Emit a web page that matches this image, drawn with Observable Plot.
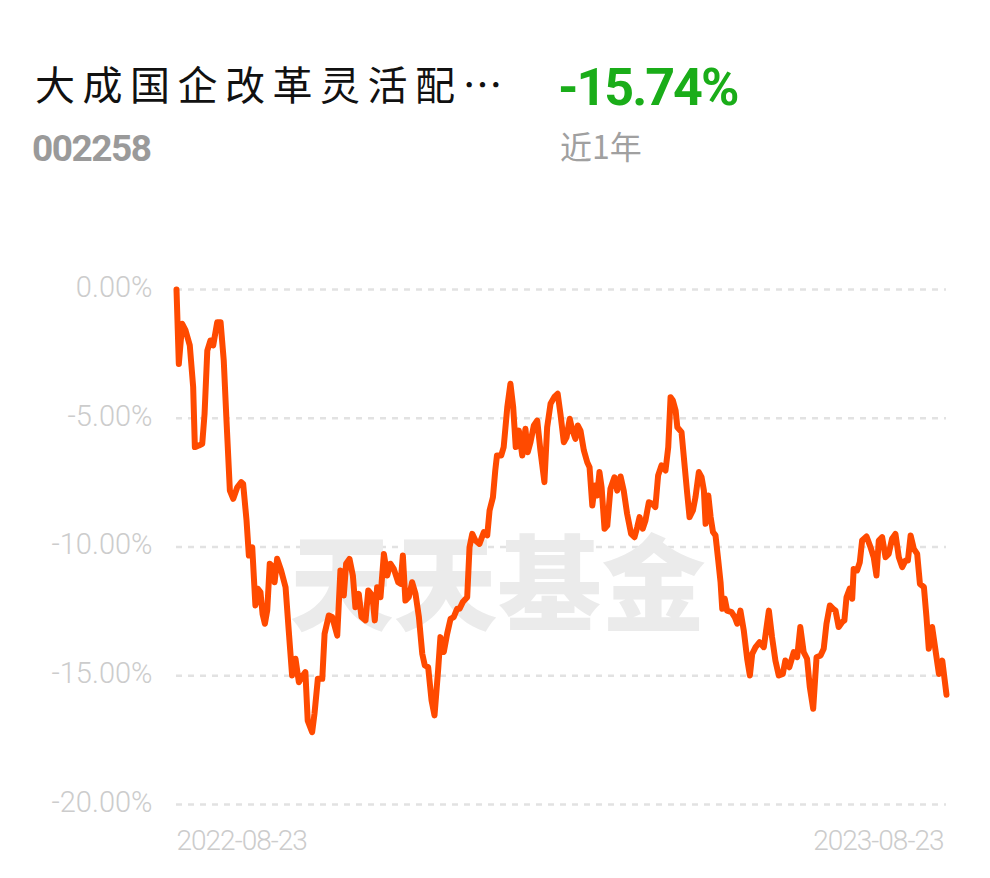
<!DOCTYPE html>
<html>
<head>
<meta charset="utf-8">
<script src="https://cdn.jsdelivr.net/npm/d3@7"></script>
<script src="https://cdn.jsdelivr.net/npm/@observablehq/plot@0.6"></script>
<style>
  html, body { margin: 0; padding: 0; background: #fff; }
  #wrap { position: relative; width: 990px; height: 878px; overflow: hidden; }
  #wrap svg { position: absolute; left: 0; top: 0; }
  .hdr { position: absolute; white-space: nowrap; line-height: 1; }
  #title { left: 35px; top: 54px; font: 40px "Noto Sans CJK SC"; letter-spacing: 7.5px; color: #111; }
  #ret { left: 558px; top: 57px; font: bold 52px Roboto; color: #1aad19; letter-spacing: -2px; }
  #code { left: 32px; top: 127px; font: bold 37px Roboto; color: #9a9a9a; letter-spacing: -1.5px; }
  #period { left: 560px; top: 122px; font: 32px "Noto Sans CJK SC"; color: #a0a0a0; }
  g[aria-label="x-axis tick label"] text { letter-spacing: -1px; }
</style>
</head>
<body>
<div id="wrap">
  <div class="hdr" id="title"></div>
  <div class="hdr" id="ret"></div>
  <div class="hdr" id="code"></div>
  <div class="hdr" id="period"></div>
</div>
<script>
// ---- data ----
const fundName = "大成国企改革灵活配…";
const fundCode = "002258";
const periodLabel = "近1年";
const periodReturn = -15.74;
const startDate = "2022-08-23";
const xTickLabels = ["2022-08-23", "2023-08-23"];
const yTicks = [0, -5, -10, -15, -20];
const watermark = "天天基金";
// [days since start, cumulative return %]
const series = [
  [0,0],[1.1,-2.89],[2.7,-1.33],[4.3,-1.59],[6.3,-2.17],[7.9,-3.79],[8.7,-6.12],[10.6,-6.06],[12.2,-5.99],[13.3,-4.83],
  [14.6,-2.37],[16.1,-1.98],[17.4,-2.17],[19.3,-1.27],[20.9,-1.27],[22.4,-2.76],[23.7,-5.09],[25.3,-7.81],[26.9,-8.13],[28.8,-7.68],
  [30.7,-7.48],[31.6,-7.55],[33.2,-8.97],[34.3,-10.33],[35.9,-10.01],[37.4,-12.27],[38.5,-11.62],[39.8,-11.75],[40.8,-12.6],[41.9,-12.98],
  [43.0,-12.47],[44.2,-10.65],[45.8,-10.78],[46.5,-11.37],[47.7,-10.46],[49.6,-10.91],[51.7,-11.56],[53.2,-13.24],[54.8,-14.99],[56.4,-14.34],
  [58.0,-15.25],[59.3,-15.06],[61.1,-14.86],[62.2,-16.74],[64.3,-17.19],[65.4,-16.48],[67.0,-15.12],[69.1,-15.12],[70.2,-13.37],[72.2,-12.66],
  [73.8,-12.72],[76.2,-13.44],[77.7,-10.91],[79.3,-11.88],[80.4,-10.65],[82.0,-10.46],[83.6,-11.11],[84.8,-12.34],[86.4,-11.82],[87.7,-12.72],
  [89.6,-12.85],[90.9,-11.69],[92.8,-11.88],[94.0,-12.85],[95.1,-11.56],[96.7,-11.95],[98.3,-10.27],[99.9,-11.11],[101.4,-10.65],[103.0,-10.85],
  [105.1,-11.37],[106.2,-11.43],[107.3,-10.33],[108.5,-12.08],[110.1,-11.95],[111.7,-11.37],[113.3,-11.82],[114.9,-12.72],[116.5,-14.15],[117.7,-14.60],
  [119.3,-14.67],[120.9,-15.96],[122.3,-16.54],[124.0,-14.80],[125.1,-13.50],[126.7,-14.08],[128.3,-13.37],[129.9,-12.79],[131.4,-12.72],[133.0,-12.40],
  [134.2,-12.40],[135.7,-12.14],[137.8,-11.95],[138.9,-10.01],[140.2,-9.49],[141.7,-9.75],[143.6,-9.88],[145.7,-9.42],[147.3,-9.55],[148.4,-8.58],
  [150.0,-8.07],[151.1,-7.03],[151.9,-6.45],[153.9,-6.45],[155.1,-6.12],[156.8,-4.57],[158.3,-3.66],[159.6,-4.57],[160.8,-6.12],[162.3,-5.48],
  [163.9,-6.45],[165.4,-5.41],[166.5,-6.32],[167.8,-5.93],[169.4,-5.28],[171.0,-5.09],[172.5,-6.25],[174.4,-7.48],[175.7,-5.35],[177.3,-4.44],
  [179.2,-4.16],[180.7,-4.05],[182.0,-4.83],[183.6,-5.93],[184.9,-5.74],[186.4,-5.02],[187.7,-5.48],[189.1,-5.80],[190.2,-5.28],[191.5,-5.48],
  [193.1,-6.25],[194.7,-6.71],[195.8,-6.90],[197.1,-8.39],[198.3,-7.61],[199.4,-8.0],[200.5,-7.09],[201.5,-7.68],[202.9,-9.29],[204.2,-9.17],
  [205.7,-7.74],[207.6,-7.29],[208.9,-7.81],[210.5,-7.26],[212.0,-7.81],[213.6,-8.71],[215.5,-9.49],[217.1,-9.62],[218.4,-9.23],[219.5,-8.84],
  [221.0,-9.29],[222.3,-8.97],[223.9,-8.26],[225.5,-8.32],[227.0,-8.45],[228.3,-7.22],[229.9,-6.83],[231.8,-7.03],[233.1,-6.12],[234.2,-4.18],
  [235.3,-4.31],[236.6,-4.70],[237.4,-5.35],[239.4,-5.54],[241.0,-6.96],[242.1,-7.93],[243.2,-8.84],[244.8,-8.58],[246.0,-8.07],[247.6,-7.09],
  [248.9,-7.29],[250.0,-7.81],[250.8,-9.10],[252.1,-8.0],[253.2,-8.84],[254.3,-9.42],[255.5,-9.55],[256.8,-10.52],[257.9,-11.37],[258.7,-12.40],
  [259.9,-12.01],[261.0,-12.47],[263.1,-12.53],[264.6,-12.72],[265.8,-12.98],[267.3,-12.47],[268.9,-13.24],[270.5,-14.34],[271.8,-14.99],[272.9,-14.15],
  [274.5,-13.89],[276.4,-13.70],[278.4,-13.89],[280.8,-12.47],[282.3,-13.50],[283.9,-14.41],[285.5,-14.99],[287.4,-14.93],[288.6,-14.41],[290.5,-14.67],
  [292.6,-14.08],[294.2,-14.28],[295.7,-13.11],[297.3,-14.08],[298.9,-14.34],[300.2,-15.44],[301.8,-16.28],[303.4,-14.28],[305.3,-14.21],[306.8,-13.95],
  [308.1,-12.98],[309.7,-12.27],[311.3,-12.40],[312.4,-12.47],[313.9,-13.11],[315.5,-12.92],[316.6,-12.85],[317.6,-11.95],[319.1,-11.62],[320.3,-12.01],
  [321.0,-10.85],[322.6,-10.91],[323.9,-10.59],[325.0,-9.75],[327.1,-9.59],[329.0,-10.01],[330.5,-10.40],[331.8,-11.11],[332.9,-9.75],[334.5,-9.62],
  [336.1,-10.40],[337.6,-10.27],[339.2,-9.68],[340.8,-9.49],[342.4,-10.40],[344.0,-10.78],[345.6,-10.52],[346.7,-10.52],[348.0,-9.55],[349.5,-10.07],
  [351.1,-10.27],[352.4,-11.43],[354.3,-11.56],[355.5,-12.72],[356.6,-13.95],[358.2,-13.11],[359.8,-14.02],[361.4,-14.93],[363.0,-14.41],[365,-15.74]
];

// ---- build ----
const DAY = 86400000;
const t0 = new Date(startDate + "T00:00:00Z");
const data = series.map(([d, v]) => ({date: new Date(t0.getTime() + d * DAY), value: v}));
const tickDates = xTickLabels.map(s => new Date(s + "T00:00:00Z"));

document.getElementById("title").textContent = fundName;
document.getElementById("ret").textContent = periodReturn.toFixed(2) + "%";
document.getElementById("code").textContent = fundCode;
document.getElementById("period").textContent = periodLabel;

const axisFontY = {fontSize: 29, fontWeight: 300, fontFamily: "Roboto", fill: "#cccccc"};
const axisFontX = {fontSize: 28, fontWeight: 300, fontFamily: "Roboto", fill: "#cccccc"};

const chart = Plot.plot({
  width: 990,
  height: 878,
  marginTop: 289,
  marginBottom: 74,
  marginLeft: 176,
  marginRight: 44,
  style: {background: "transparent", overflow: "visible"},
  x: {type: "utc", domain: [tickDates[0], tickDates[1]]},
  y: {domain: [-20, 0]},
  marks: [
    Plot.gridY(yTicks, {stroke: "#e2e2e2", strokeOpacity: 1, strokeWidth: 2.5, strokeDasharray: "6,6"}),
    Plot.text([watermark], {frameAnchor: "middle", dx: -64, dy: 43, fontSize: 104, fontWeight: 900, fontFamily: "Noto Sans CJK SC", fill: "#ebebeb"}),
    Plot.axisY(yTicks, {tickSize: 0, tickPadding: 24, label: null, dy: -2, tickFormat: d => d.toFixed(2) + "%", ...axisFontY}),
    Plot.axisX([tickDates[0]], {tickSize: 0, tickPadding: 26, label: null, textAnchor: "start", tickFormat: () => xTickLabels[0], ...axisFontX}),
    Plot.axisX([tickDates[1]], {tickSize: 0, tickPadding: 26, label: null, textAnchor: "end", dx: -3, tickFormat: () => xTickLabels[1], ...axisFontX}),
    Plot.line(data, {x: "date", y: "value", stroke: "#ff4a00", strokeWidth: 6, strokeLinejoin: "round", strokeLinecap: "round"})
  ]
});
document.getElementById("wrap").prepend(chart);
</script>
</body>
</html>
